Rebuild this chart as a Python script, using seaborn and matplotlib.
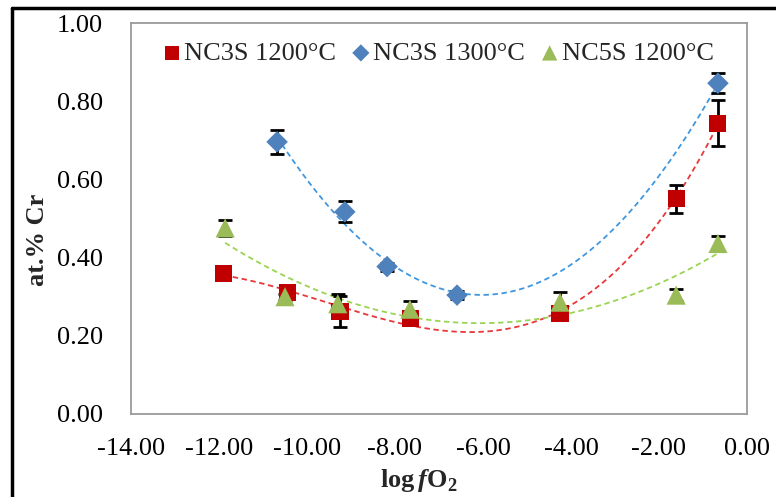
import numpy as np
import pandas as pd
import seaborn as sns
from matplotlib import pyplot as plt
from matplotlib.lines import Line2D

# data
series = ["NC3S 1200°C", "NC3S 1300°C", "NC5S 1200°C"]

x_nc3s_1200 = [-11.89, -10.45, -9.25, -7.64, -4.25, -1.61, -0.66]
y_nc3s_1200 = [0.360, 0.310, 0.262, 0.245, 0.258, 0.550, 0.744]
e_nc3s_1200 = [0.015, 0.008, 0.040, 0.008, 0.008, 0.035, 0.058]

x_nc3s_1300 = [-10.68, -9.14, -8.18, -6.59, -0.66]
y_nc3s_1300 = [0.696, 0.517, 0.377, 0.304, 0.846]
e_nc3s_1300 = [0.030, 0.027, 0.010, 0.010, 0.025]

x_nc5s_1200 = [-11.86, -10.50, -9.30, -7.66, -4.25, -1.61, -0.66]
y_nc5s_1200 = [0.476, 0.300, 0.282, 0.268, 0.286, 0.304, 0.436]
e_nc5s_1200 = [0.020, 0.008, 0.025, 0.022, 0.025, 0.015, 0.020]

x_ticks = [-14, -12, -10, -8, -6, -4, -2, 0]
y_ticks = [0.0, 0.2, 0.4, 0.6, 0.8, 1.0]

marker_colors = ["#C00000", "#4F81BD", "#9BBB59"]
trend_colors = ["#E8383A", "#3F97E0", "#9AD452"]
trend_order = [3, 2, 2]
markers = ["s", "D", "^"]
sizes = [150, 120, 190]


def main():
    sns.set_theme(style="white")
    plt.rcParams["font.family"] = ["Liberation Serif", "DejaVu Serif"]
    plt.rcParams["mathtext.fontset"] = "custom"
    plt.rcParams["mathtext.rm"] = "Liberation Serif"
    plt.rcParams["mathtext.bf"] = "Liberation Serif:bold"
    plt.rcParams["mathtext.bfit"] = "Liberation Serif:bold:italic"

    df = pd.concat(
        [
            pd.DataFrame({"x": xs, "y": ys, "err": es, "series": name})
            for name, xs, ys, es in zip(
                series,
                [x_nc3s_1200, x_nc3s_1300, x_nc5s_1200],
                [y_nc3s_1200, y_nc3s_1300, y_nc5s_1200],
                [e_nc3s_1200, e_nc3s_1300, e_nc5s_1200],
            )
        ],
        ignore_index=True,
    )

    fig = plt.figure(figsize=(7.76, 4.97), dpi=100)
    ax = fig.add_axes([131 / 776, 1 - 414 / 497, 616 / 776, 391 / 497])

    # polynomial trendlines, as in the spreadsheet
    for name, col, order in zip(series, trend_colors, trend_order):
        sub = df[df["series"] == name]
        coef = np.polyfit(sub["x"], sub["y"], order)
        xx = np.linspace(sub["x"].min(), sub["x"].max(), 200)
        sns.lineplot(x=xx, y=np.polyval(coef, xx), color=col, linestyle=(0, (3, 2)),
                     linewidth=1.3, ax=ax, zorder=2, legend=False)

    # error bars
    for name in series:
        sub = df[df["series"] == name]
        ax.errorbar(sub["x"], sub["y"], yerr=sub["err"], fmt="none", ecolor="black",
                    elinewidth=2, capsize=5, capthick=2, zorder=3)

    # markers
    for name, col, mk, sz in zip(series, marker_colors, markers, sizes):
        sub = df[df["series"] == name]
        sns.scatterplot(data=sub, x="x", y="y", color=col, marker=mk, s=sz,
                        edgecolor="none", ax=ax, zorder=4, label=name)

    ax.set_xlim(-14, 0)
    ax.set_ylim(0, 1)
    ax.set_xticks(x_ticks)
    ax.set_xticklabels([f"{v:.2f}" for v in x_ticks])
    ax.set_yticks(y_ticks)
    ax.set_yticklabels([f"{v:.2f}" for v in y_ticks])
    ax.tick_params(axis="both", direction="out", length=8, width=1.2, color="#9A9A9A",
                   labelsize=19, labelcolor="black")
    ax.tick_params(axis="y", pad=12)
    ax.tick_params(axis="x", pad=9)
    for sp in ax.spines.values():
        sp.set_color("#9A9A9A")
        sp.set_linewidth(1.3)

    ax.set_xlabel(r"$\mathbf{log}\,\mathbfit{f}\mathbf{O}_\mathbf{2}$", fontsize=19,
                  va="center")
    ax.xaxis.set_label_coords((419 - 131) / 616, (414 - 481) / 391)
    ax.set_ylabel("at.% Cr", fontsize=19, fontweight="bold", va="center")
    ax.yaxis.set_label_coords((37 - 131) / 616, (414 - 240) / 391)

    ax.legend(loc="upper left", bbox_to_anchor=(0.03, 0.98), ncol=3, frameon=False,
              fontsize=19, handletextpad=0.0, columnspacing=0.5, handlelength=0.9,
              borderaxespad=0, markerscale=0.8)

    # outer frame of the original figure (left and top edges visible)
    fig.add_artist(Line2D([12.5 / 776, 12.5 / 776], [0, 1 - 8 / 497], color="black",
                          linewidth=2.5, transform=fig.transFigure))
    fig.add_artist(Line2D([12.5 / 776, 1], [1 - 8 / 497, 1 - 8 / 497], color="black",
                          linewidth=2.5, transform=fig.transFigure))

    fig.savefig("out.png", dpi=100)


if __name__ == "__main__":
    main()
